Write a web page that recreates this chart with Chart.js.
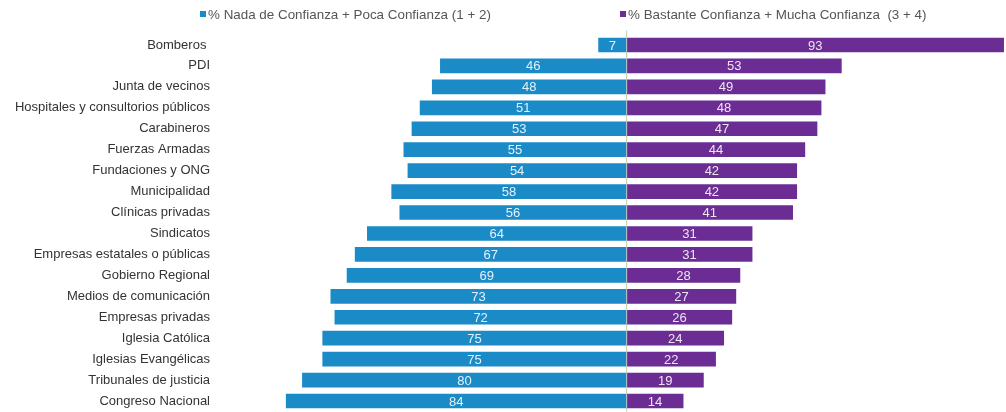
<!DOCTYPE html>
<html>
<head>
<meta charset="utf-8">
<script src="https://cdn.jsdelivr.net/npm/chart.js@4/dist/chart.umd.min.js"></script>
<style>
  body { margin: 0; background: #fff; font-family: "Liberation Sans", Arial, sans-serif; overflow: hidden; }
  #wrap { position: relative; width: 1006px; height: 412px; }
  #confianzaChart { position: absolute; left: 0; top: 0; }
  .leg { position: absolute; top: 7px; font-size: 13.4px; color: #555; white-space: pre; line-height: 16px; }
  .leg i { display: inline-block; width: 6px; height: 6px; margin-right: 2px; vertical-align: 2px; }
</style>
</head>
<body>
<div id="wrap">
  <canvas id="confianzaChart" width="1006" height="412"></canvas>
  <div class="leg" id="leg1" style="left:200px"></div>
  <div class="leg" id="leg2" style="left:620px"></div>
</div>
<script>
var categories = ['Bomberos ', 'PDI', 'Junta de vecinos', 'Hospitales y consultorios públicos', 'Carabineros',
    'Fuerzas Armadas', 'Fundaciones y ONG', 'Municipalidad', 'Clínicas privadas', 'Sindicatos',
    'Empresas estatales o públicas', 'Gobierno Regional', 'Medios de comunicación', 'Empresas privadas',
    'Iglesia Católica', 'Iglesias Evangélicas', 'Tribunales de justicia', 'Congreso Nacional'];
var nadaPoca = [7, 46, 48, 51, 53, 55, 54, 58, 56, 64, 67, 69, 73, 72, 75, 75, 80, 84];
var bastanteMucha = [93, 53, 49, 48, 47, 44, 42, 42, 41, 31, 31, 28, 27, 26, 24, 22, 19, 14];
var seriesNames = ['% Nada de Confianza + Poca Confianza (1 + 2)', '% Bastante Confianza + Mucha Confianza  (3 + 4)'];

var blue = '#1b8bc8';
var purple = '#6b2d93';

document.getElementById('leg1').innerHTML = '<i style="background:' + blue + '"></i>' + seriesNames[0];
document.getElementById('leg2').innerHTML = '<i style="background:' + purple + '"></i>' + seriesNames[1];

// linea central en cero
var centerLine = {
    id: 'centerLine',
    afterDatasetsDraw: function(chart) {
        var ctx = chart.ctx;
        var x = chart.scales.x.getPixelForValue(0);
        ctx.save();
        ctx.strokeStyle = '#b9c9c2';
        ctx.lineWidth = 1;
        ctx.beginPath();
        ctx.moveTo(x, chart.chartArea.top - 4);
        ctx.lineTo(x, chart.chartArea.bottom);
        ctx.stroke();
        ctx.restore();
    }
};

// etiquetas de valores dentro de las barras
var valueLabels = {
    id: 'valueLabels',
    afterDatasetsDraw: function(chart) {
        var ctx = chart.ctx;
        ctx.save();
        ctx.font = '13px "Liberation Sans", Arial, sans-serif';
        ctx.fillStyle = 'rgba(255,255,255,0.88)';
        ctx.textAlign = 'center';
        ctx.textBaseline = 'middle';
        var source = [nadaPoca, bastanteMucha];
        chart.data.datasets.forEach(function(ds, i) {
            chart.getDatasetMeta(i).data.forEach(function(bar, j) {
                var p = bar.getCenterPoint();
                ctx.fillText(String(source[i][j]), p.x, p.y + 1);
            });
        });
        ctx.restore();
    }
};

new Chart(document.getElementById('confianzaChart'), {
    type: 'bar',
    data: {
        labels: categories,
        datasets: [{
            label: seriesNames[0],
            data: nadaPoca.map(function(v) { return -v; }),
            backgroundColor: blue,
            barPercentage: 0.7,
            categoryPercentage: 1
        }, {
            label: seriesNames[1],
            data: bastanteMucha,
            backgroundColor: purple,
            barPercentage: 0.7,
            categoryPercentage: 1
        }]
    },
    plugins: [centerLine, valueLabels],
    options: {
        indexAxis: 'y',
        responsive: false,
        devicePixelRatio: 1,
        animation: false,
        layout: { padding: { top: 34.5, bottom: 0.5, left: 0, right: 0 } },
        scales: {
            x: {
                stacked: true,
                display: false,
                min: -102.7,
                max: 93.5
            },
            y: {
                stacked: true,
                grid: { display: false, drawTicks: false },
                border: { display: false },
                ticks: {
                    padding: 0,
                    autoSkip: false,
                    color: '#333',
                    font: { family: '"Liberation Sans", Arial, sans-serif', size: 13, lineHeight: 0.05 }
                },
                afterFit: function(scale) { scale.width = 210; }
            }
        },
        plugins: {
            legend: { display: false },
            tooltip: { enabled: false }
        }
    }
});
</script>
</body>
</html>
